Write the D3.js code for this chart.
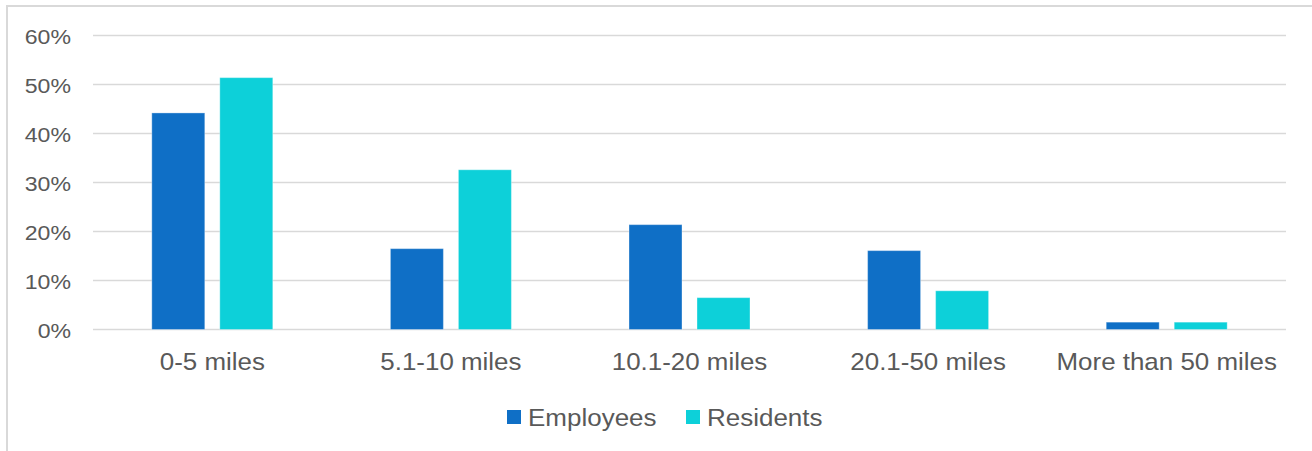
<!DOCTYPE html>
<html>
<head>
<meta charset="utf-8">
<script src="https://cdn.jsdelivr.net/npm/d3@7"></script>
<style>
  html, body { margin: 0; padding: 0; background: #ffffff; }
  svg { display: block; }
  text { font-family: "Liberation Sans", Arial, sans-serif; fill: #595959; }
</style>
</head>
<body>
<svg id="chart" width="1312" height="451"></svg>
<script>
// Commute distance categories and share of each group (percent)
const categories = ["0-5 miles", "5.1-10 miles", "10.1-20 miles", "20.1-50 miles", "More than 50 miles"];
const seriesNames = ["Employees", "Residents"];
const employees = [44.2, 16.5, 21.4, 16.1, 1.5];
const residents = [51.4, 32.6, 6.5, 7.9, 1.5];
const yTicks = [0, 10, 20, 30, 40, 50, 60];

const colors = { Employees: "#0f6fc6", Residents: "#0dd0d9" };

const svg = d3.select("#chart");
const W = 1312, H = 451;
const plot = { left: 93, right: 1286, top: 35.5, bottom: 329.5 };
const fontStack = "'Liberation Sans', Arial, sans-serif";

// Outer chart frame
svg.append("rect")
  .attr("x", 7).attr("y", 6)
  .attr("width", W + 10).attr("height", H + 10)
  .attr("fill", "none").attr("stroke", "#d9d9d9").attr("stroke-width", 2);

const x = d3.scaleBand().domain(categories).range([plot.left, plot.right]).paddingInner(0).paddingOuter(0);
const y = d3.scaleLinear().domain([0, 60]).range([plot.bottom, plot.top]);

// Horizontal gridlines
svg.append("g")
  .selectAll("line").data(yTicks).join("line")
  .attr("x1", plot.left).attr("x2", plot.right)
  .attr("y1", d => y(d)).attr("y2", d => y(d))
  .attr("stroke", "#d9d9d9").attr("stroke-width", 1.5);

// Y axis labels
const yAxis = d3.axisLeft(y).tickValues(yTicks).tickFormat(d => d + "%").tickSize(0).tickPadding(0);
const gy = svg.append("g").attr("transform", `translate(71,0)`).call(yAxis);
gy.select(".domain").remove();
gy.selectAll("text")
  .attr("font-size", 21).attr("fill", "#595959")
  .style("font-family", fontStack)
  .attr("x", 0).attr("dy", "0.36em")
  .attr("transform", "scale(1.1,1)");

// Bars
const rows = categories.map((c, i) => ({ category: c, Employees: employees[i], Residents: residents[i] }));
const barW = 53, gap = 15;
const xs = d3.scaleOrdinal().domain(seriesNames).range([-(gap / 2) - barW, gap / 2]);

const groups = svg.append("g").selectAll("g").data(rows).join("g")
  .attr("transform", d => `translate(${x(d.category) + x.bandwidth() / 2},0)`);

groups.selectAll("rect")
  .data(d => seriesNames.map(s => ({ key: s, value: d[s] })))
  .join("rect")
  .attr("x", d => xs(d.key))
  .attr("width", barW)
  .attr("y", d => y(d.value))
  .attr("height", d => y(0) - y(d.value))
  .attr("fill", d => colors[d.key])
  .attr("stroke", "#ffffff").attr("stroke-opacity", 0.35).attr("stroke-width", 1);

// Category labels
const xAxis = d3.axisBottom(x).tickSize(0).tickPadding(0);
const gx = svg.append("g").attr("transform", `translate(0,${plot.bottom})`).call(xAxis);
gx.select(".domain").remove();
gx.selectAll("text")
  .attr("font-size", 24).attr("fill", "#595959")
  .style("font-family", fontStack)
  .attr("y", 41).attr("dy", 0)
  .attr("transform", "scale(1.08,1)");

// Legend
const legend = svg.append("g").attr("transform", "translate(0,417)");
const legendItems = [
  { name: "Employees", x: 507 },
  { name: "Residents", x: 686 }
];
const li = legend.selectAll("g").data(legendItems).join("g")
  .attr("transform", d => `translate(${d.x},0)`);
li.append("rect").attr("x", 0).attr("y", -7).attr("width", 14).attr("height", 14)
  .attr("fill", d => colors[d.name]);
li.append("text")
  .attr("transform", "translate(21,9) scale(1.13,1)")
  .attr("font-size", 23).text(d => d.name);
</script>
</body>
</html>
